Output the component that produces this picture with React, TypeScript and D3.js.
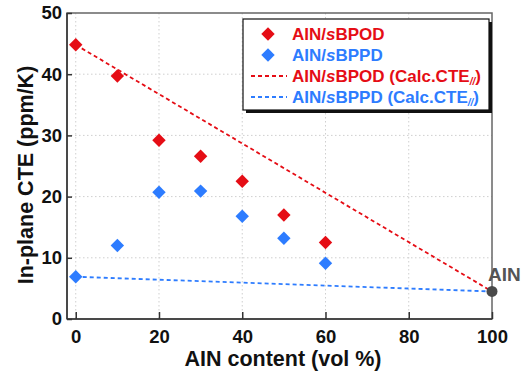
import React, { useEffect, useRef } from "react";
import * as d3 from "d3";

// measured series (AlN content vol %, in-plane CTE ppm/K)
const contents = [0, 10, 20, 30, 40, 50, 60];
const sbpod = [44.8, 39.7, 29.2, 26.6, 22.5, 17.0, 12.5];
const sbppd = [6.9, 12.0, 20.7, 20.9, 16.8, 13.2, 9.1];

// calculated CTE lines (rule of mixtures, endpoints)
const calcX = [0, 100];
const calcSbpod = [44.8, 4.5];
const calcSbppd = [6.9, 4.5];

// AlN reference point
const alnX = 100;
const alnY = 4.5;

const xTicks = [0, 20, 40, 60, 80, 100];
const yTicks = [0, 10, 20, 30, 40, 50];

const RED = "#e50d15";
const BLUE = "#2d7cff";
const GRAY = "#4a4a4a";

const App: React.FC = () => {
    const svgRef = useRef<SVGSVGElement | null>(null);

    useEffect(() => {
        const width = 522;
        const height = 374;
        const left = 67, right = 492, top = 13, bottom = 319;

        const root = d3.select(svgRef.current);
        root.selectAll("*").remove();
        root.attr("width", width).attr("height", height);

        const svg = root.append("g").style("font-family", "'Liberation Sans', Arial, sans-serif");

        const x = d3.scaleLinear().domain([-2.1, 100]).range([left, right]);
        const y = d3.scaleLinear().domain([0, 50]).range([bottom, top]);

        // grid
        svg.append("g")
            .selectAll("line")
            .data(xTicks.filter((t) => t < 100))
            .enter()
            .append("line")
            .attr("x1", (d) => x(d)).attr("x2", (d) => x(d))
            .attr("y1", top).attr("y2", bottom)
            .attr("stroke", "#cfcfcf").attr("stroke-dasharray", "1.5,2.5");
        svg.append("g")
            .selectAll("line")
            .data(yTicks.filter((t) => t > 0 && t < 50))
            .enter()
            .append("line")
            .attr("x1", left).attr("x2", right)
            .attr("y1", (d) => y(d)).attr("y2", (d) => y(d))
            .attr("stroke", "#cfcfcf").attr("stroke-dasharray", "1.5,2.5");

        // frame
        svg.append("rect")
            .attr("x", left).attr("y", top)
            .attr("width", right - left).attr("height", bottom - top)
            .attr("fill", "none").attr("stroke", "#666").attr("stroke-width", 1.5);
        svg.append("line")
            .attr("x1", left).attr("x2", right).attr("y1", bottom).attr("y2", bottom)
            .attr("stroke", "#333").attr("stroke-width", 1.5);
        svg.append("line")
            .attr("x1", left).attr("x2", left).attr("y1", top).attr("y2", bottom)
            .attr("stroke", "#333").attr("stroke-width", 1.5);

        // axes (inward ticks)
        const xAxis = d3.axisBottom(x).tickValues(xTicks).tickSize(-7).tickPadding(10).tickFormat(d3.format("d"));
        const gx = svg.append("g").attr("transform", `translate(0,${bottom})`).call(xAxis);
        const yAxis = d3.axisLeft(y).tickValues(yTicks).tickSize(-5).tickPadding(5).tickFormat(d3.format("d"));
        const gy = svg.append("g").attr("transform", `translate(${left},0)`).call(yAxis);
        [gx, gy].forEach((g) => {
            g.select(".domain").remove();
            g.selectAll("line").attr("stroke", "#333").attr("stroke-width", 1.5);
            g.selectAll("text")
                .attr("fill", "#111")
                .style("font-size", "18.5px")
                .style("font-weight", "bold")
                .style("font-family", "'Liberation Sans', Arial, sans-serif");
        });
        gx.selectAll("text").attr("dy", "0.75em");

        // axis titles
        svg.append("text")
            .attr("x", 283).attr("y", 366)
            .attr("text-anchor", "middle")
            .style("font-size", "21.5px").style("font-weight", "bold").attr("fill", "#111")
            .text("AIN content (vol %)");
        svg.append("text")
            .attr("transform", `translate(33,175) rotate(-90)`)
            .attr("text-anchor", "middle")
            .style("font-size", "21.5px").style("font-weight", "bold").attr("fill", "#111")
            .text("In-plane CTE (ppm/K)");

        // calc lines
        const line = d3.line<[number, number]>().x((d) => x(d[0])).y((d) => y(d[1]));
        svg.append("path")
            .datum(calcX.map((v, i) => [v, calcSbppd[i]] as [number, number]))
            .attr("d", line).attr("fill", "none")
            .attr("stroke", BLUE).attr("stroke-width", 1.8).attr("stroke-dasharray", "4,3");
        svg.append("path")
            .datum(calcX.map((v, i) => [v, calcSbpod[i]] as [number, number]))
            .attr("d", line).attr("fill", "none")
            .attr("stroke", RED).attr("stroke-width", 1.8).attr("stroke-dasharray", "4,3");

        // diamonds
        const diamond = d3.symbol().type(d3.symbolSquare).size(90);
        const drawDiamonds = (vals: number[], color: string) => {
            svg.append("g")
                .selectAll("path")
                .data(contents.map((c, i) => [c, vals[i]]))
                .enter()
                .append("path")
                .attr("d", diamond)
                .attr("transform", (d) => `translate(${x(d[0])},${y(d[1])}) rotate(45)`)
                .attr("fill", color);
        };
        drawDiamonds(sbpod, RED);
        drawDiamonds(sbppd, BLUE);

        // AlN point
        svg.append("circle")
            .attr("cx", x(alnX)).attr("cy", y(alnY)).attr("r", 5.5)
            .attr("fill", GRAY);
        svg.append("text")
            .attr("x", x(alnX) - 4).attr("y", y(alnY) - 10)
            .style("font-size", "19px").style("font-weight", "bold").attr("fill", "#555")
            .text("AIN");

        // legend
        const lg = svg.append("g").attr("transform", "translate(243,19)");
        lg.append("rect").attr("x", 3).attr("y", 3).attr("width", 246).attr("height", 91).attr("fill", "#111");
        lg.append("rect").attr("x", 0).attr("y", 0).attr("width", 246).attr("height", 91)
            .attr("fill", "white").attr("stroke", "#111").attr("stroke-width", 1.2);

        const rows = [
            { color: RED, kind: "marker", name: "sBPOD", calc: false },
            { color: BLUE, kind: "marker", name: "sBPPD", calc: false },
            { color: RED, kind: "line", name: "sBPOD", calc: true },
            { color: BLUE, kind: "line", name: "sBPPD", calc: true },
        ];
        rows.forEach((r, i) => {
            const cy = 15 + i * 21;
            if (r.kind === "marker") {
                lg.append("path").attr("d", diamond)
                    .attr("transform", `translate(25,${cy}) rotate(45)`).attr("fill", r.color);
            } else {
                lg.append("line").attr("x1", 8).attr("x2", 44).attr("y1", cy).attr("y2", cy)
                    .attr("stroke", r.color).attr("stroke-width", 1.8).attr("stroke-dasharray", "4,3");
            }
            const t = lg.append("text").attr("x", 49).attr("y", cy + 6)
                .style("font-size", "17px").style("font-weight", "bold").attr("fill", r.color);
            t.append("tspan").text("AIN/");
            t.append("tspan").style("font-style", "italic").text("s");
            t.append("tspan").text(r.name.slice(1));
            if (r.calc) {
                t.append("tspan").text(" (Calc.CTE");
                t.append("tspan").style("font-size", "10px").style("font-style", "italic").attr("dy", 3).text("//");
                t.append("tspan").attr("dy", -3).text(")");
            }
        });
    }, []);

    return <svg ref={svgRef} style={{ position: "absolute", left: 0, top: 0 }} />;
};

export default App;
